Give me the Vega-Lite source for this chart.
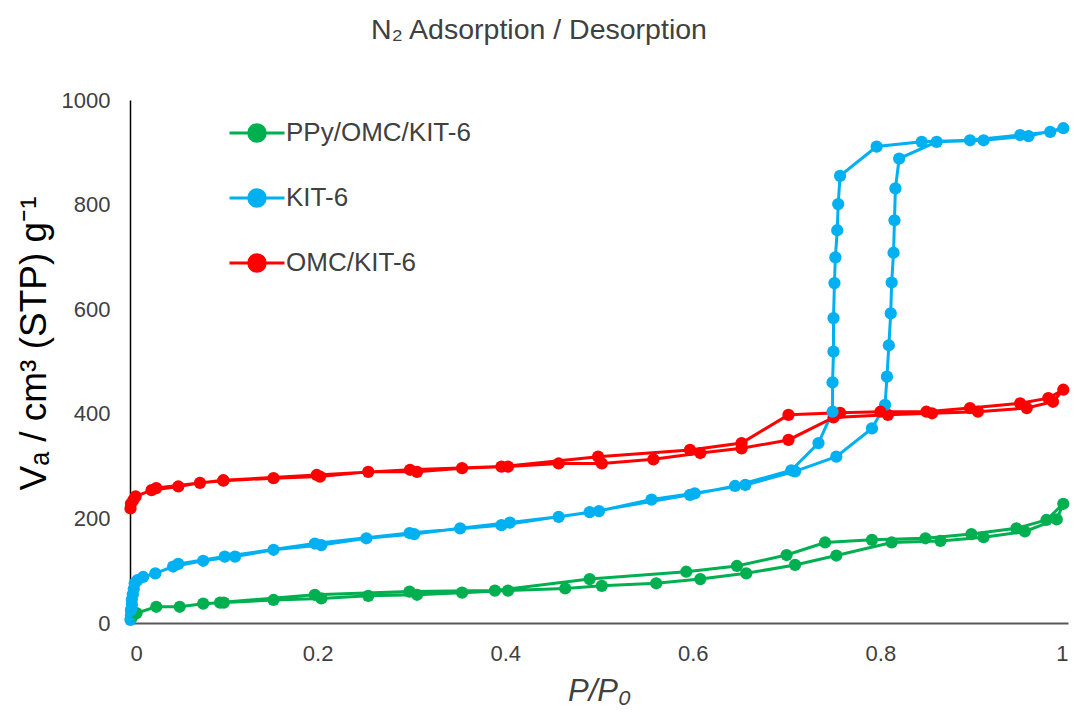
{
  "$schema": "https://vega.github.io/schema/vega-lite/v6.json",
  "autosize": {"type": "none"},
  "width": 938,
  "height": 523,
  "padding": {"left": 130, "top": 100, "right": 11, "bottom": 90},
  "background": "white",
  "config": {"font": "Liberation Sans", "view": {"stroke": null}},
  "title": {"text": "N₂ Adsorption / Desorption", "fontSize": 28.5, "fontWeight": "normal", "color": "#404040", "font": "Liberation Sans", "dx": -60, "offset": 45},
  "data": {"values": [
    {"s":"PPy/OMC/KIT-6","i":1,"x":0.001,"y":8},{"s":"PPy/OMC/KIT-6","i":2,"x":0.003,"y":14},{"s":"PPy/OMC/KIT-6","i":3,"x":0.007,"y":19},{"s":"PPy/OMC/KIT-6","i":4,"x":0.028,"y":31},{"s":"PPy/OMC/KIT-6","i":5,"x":0.053,"y":31},{"s":"PPy/OMC/KIT-6","i":6,"x":0.078,"y":37},{"s":"PPy/OMC/KIT-6","i":7,"x":0.1,"y":39},{"s":"PPy/OMC/KIT-6","i":8,"x":0.153,"y":44},{"s":"PPy/OMC/KIT-6","i":9,"x":0.204,"y":47},{"s":"PPy/OMC/KIT-6","i":10,"x":0.254,"y":52},{"s":"PPy/OMC/KIT-6","i":11,"x":0.306,"y":54},{"s":"PPy/OMC/KIT-6","i":12,"x":0.354,"y":58},{"s":"PPy/OMC/KIT-6","i":13,"x":0.403,"y":62},{"s":"PPy/OMC/KIT-6","i":14,"x":0.464,"y":66},{"s":"PPy/OMC/KIT-6","i":15,"x":0.503,"y":71},{"s":"PPy/OMC/KIT-6","i":16,"x":0.561,"y":76},{"s":"PPy/OMC/KIT-6","i":17,"x":0.608,"y":84},{"s":"PPy/OMC/KIT-6","i":18,"x":0.657,"y":95},{"s":"PPy/OMC/KIT-6","i":19,"x":0.709,"y":111},{"s":"PPy/OMC/KIT-6","i":20,"x":0.753,"y":129},{"s":"PPy/OMC/KIT-6","i":21,"x":0.812,"y":154},{"s":"PPy/OMC/KIT-6","i":22,"x":0.864,"y":157},{"s":"PPy/OMC/KIT-6","i":23,"x":0.91,"y":164},{"s":"PPy/OMC/KIT-6","i":24,"x":0.954,"y":175},{"s":"PPy/OMC/KIT-6","i":25,"x":0.988,"y":198},{"s":"PPy/OMC/KIT-6","i":26,"x":0.995,"y":228},{"s":"PPy/OMC/KIT-6","i":27,"x":0.977,"y":197},{"s":"PPy/OMC/KIT-6","i":28,"x":0.945,"y":181},{"s":"PPy/OMC/KIT-6","i":29,"x":0.897,"y":170},{"s":"PPy/OMC/KIT-6","i":30,"x":0.848,"y":162},{"s":"PPy/OMC/KIT-6","i":31,"x":0.791,"y":159},{"s":"PPy/OMC/KIT-6","i":32,"x":0.741,"y":154},{"s":"PPy/OMC/KIT-6","i":33,"x":0.7,"y":130},{"s":"PPy/OMC/KIT-6","i":34,"x":0.647,"y":109},{"s":"PPy/OMC/KIT-6","i":35,"x":0.593,"y":98},{"s":"PPy/OMC/KIT-6","i":36,"x":0.49,"y":84},{"s":"PPy/OMC/KIT-6","i":37,"x":0.389,"y":62},{"s":"PPy/OMC/KIT-6","i":38,"x":0.298,"y":60},{"s":"PPy/OMC/KIT-6","i":39,"x":0.197,"y":54},{"s":"PPy/OMC/KIT-6","i":40,"x":0.096,"y":39},
    {"s":"KIT-6","i":1,"x":0.0005,"y":6},{"s":"KIT-6","i":2,"x":0.001,"y":15},{"s":"KIT-6","i":3,"x":0.001,"y":25},{"s":"KIT-6","i":4,"x":0.002,"y":35},{"s":"KIT-6","i":5,"x":0.002,"y":45},{"s":"KIT-6","i":6,"x":0.003,"y":55},{"s":"KIT-6","i":7,"x":0.004,"y":65},{"s":"KIT-6","i":8,"x":0.005,"y":76},{"s":"KIT-6","i":9,"x":0.008,"y":82},{"s":"KIT-6","i":10,"x":0.014,"y":88},{"s":"KIT-6","i":11,"x":0.027,"y":95},{"s":"KIT-6","i":12,"x":0.046,"y":108},{"s":"KIT-6","i":13,"x":0.078,"y":119},{"s":"KIT-6","i":14,"x":0.112,"y":127},{"s":"KIT-6","i":15,"x":0.153,"y":140},{"s":"KIT-6","i":16,"x":0.204,"y":149},{"s":"KIT-6","i":17,"x":0.252,"y":162},{"s":"KIT-6","i":18,"x":0.303,"y":170},{"s":"KIT-6","i":19,"x":0.352,"y":181},{"s":"KIT-6","i":20,"x":0.405,"y":192},{"s":"KIT-6","i":21,"x":0.457,"y":203},{"s":"KIT-6","i":22,"x":0.5,"y":214},{"s":"KIT-6","i":23,"x":0.556,"y":236},{"s":"KIT-6","i":24,"x":0.602,"y":248},{"s":"KIT-6","i":25,"x":0.656,"y":264},{"s":"KIT-6","i":26,"x":0.709,"y":290},{"s":"KIT-6","i":27,"x":0.753,"y":318},{"s":"KIT-6","i":28,"x":0.791,"y":372},{"s":"KIT-6","i":29,"x":0.805,"y":417},{"s":"KIT-6","i":30,"x":0.807,"y":471},{"s":"KIT-6","i":31,"x":0.809,"y":531},{"s":"KIT-6","i":32,"x":0.811,"y":592},{"s":"KIT-6","i":33,"x":0.812,"y":651},{"s":"KIT-6","i":34,"x":0.814,"y":708},{"s":"KIT-6","i":35,"x":0.815,"y":770},{"s":"KIT-6","i":36,"x":0.816,"y":831},{"s":"KIT-6","i":37,"x":0.82,"y":888},{"s":"KIT-6","i":38,"x":0.86,"y":920},{"s":"KIT-6","i":39,"x":0.91,"y":923},{"s":"KIT-6","i":40,"x":0.958,"y":931},{"s":"KIT-6","i":41,"x":0.995,"y":946},{"s":"KIT-6","i":42,"x":0.981,"y":939},{"s":"KIT-6","i":43,"x":0.949,"y":933},{"s":"KIT-6","i":44,"x":0.8955,"y":923},{"s":"KIT-6","i":45,"x":0.844,"y":920},{"s":"KIT-6","i":46,"x":0.796,"y":911},{"s":"KIT-6","i":47,"x":0.757,"y":855},{"s":"KIT-6","i":48,"x":0.755,"y":801},{"s":"KIT-6","i":49,"x":0.754,"y":751},{"s":"KIT-6","i":50,"x":0.752,"y":699},{"s":"KIT-6","i":51,"x":0.751,"y":650},{"s":"KIT-6","i":52,"x":0.75,"y":583},{"s":"KIT-6","i":53,"x":0.75,"y":519},{"s":"KIT-6","i":54,"x":0.749,"y":460},{"s":"KIT-6","i":55,"x":0.749,"y":404},{"s":"KIT-6","i":56,"x":0.734,"y":344},{"s":"KIT-6","i":57,"x":0.705,"y":292},{"s":"KIT-6","i":58,"x":0.645,"y":262},{"s":"KIT-6","i":59,"x":0.597,"y":245},{"s":"KIT-6","i":60,"x":0.49,"y":212},{"s":"KIT-6","i":61,"x":0.396,"y":187},{"s":"KIT-6","i":62,"x":0.298,"y":172},{"s":"KIT-6","i":63,"x":0.197,"y":152},{"s":"KIT-6","i":64,"x":0.101,"y":127},{"s":"KIT-6","i":65,"x":0.0515,"y":113},
    {"s":"OMC/KIT-6","i":1,"x":0.0005,"y":219},{"s":"OMC/KIT-6","i":2,"x":0.001,"y":228},{"s":"OMC/KIT-6","i":3,"x":0.0036,"y":235},{"s":"OMC/KIT-6","i":4,"x":0.006,"y":242},{"s":"OMC/KIT-6","i":5,"x":0.023,"y":254},{"s":"OMC/KIT-6","i":6,"x":0.0515,"y":261},{"s":"OMC/KIT-6","i":7,"x":0.0746,"y":268},{"s":"OMC/KIT-6","i":8,"x":0.0995,"y":272},{"s":"OMC/KIT-6","i":9,"x":0.153,"y":277},{"s":"OMC/KIT-6","i":10,"x":0.2026,"y":280},{"s":"OMC/KIT-6","i":11,"x":0.254,"y":289},{"s":"OMC/KIT-6","i":12,"x":0.306,"y":289},{"s":"OMC/KIT-6","i":13,"x":0.354,"y":296},{"s":"OMC/KIT-6","i":14,"x":0.403,"y":299},{"s":"OMC/KIT-6","i":15,"x":0.457,"y":305},{"s":"OMC/KIT-6","i":16,"x":0.503,"y":305},{"s":"OMC/KIT-6","i":17,"x":0.558,"y":313},{"s":"OMC/KIT-6","i":18,"x":0.608,"y":325},{"s":"OMC/KIT-6","i":19,"x":0.652,"y":334},{"s":"OMC/KIT-6","i":20,"x":0.702,"y":350},{"s":"OMC/KIT-6","i":21,"x":0.75,"y":393},{"s":"OMC/KIT-6","i":22,"x":0.808,"y":398},{"s":"OMC/KIT-6","i":23,"x":0.855,"y":401},{"s":"OMC/KIT-6","i":24,"x":0.904,"y":404},{"s":"OMC/KIT-6","i":25,"x":0.956,"y":411},{"s":"OMC/KIT-6","i":26,"x":0.984,"y":423},{"s":"OMC/KIT-6","i":27,"x":0.995,"y":446},{"s":"OMC/KIT-6","i":28,"x":0.979,"y":430},{"s":"OMC/KIT-6","i":29,"x":0.949,"y":420},{"s":"OMC/KIT-6","i":30,"x":0.8955,"y":411},{"s":"OMC/KIT-6","i":31,"x":0.849,"y":404},{"s":"OMC/KIT-6","i":32,"x":0.8,"y":404},{"s":"OMC/KIT-6","i":33,"x":0.757,"y":402},{"s":"OMC/KIT-6","i":34,"x":0.702,"y":398},{"s":"OMC/KIT-6","i":35,"x":0.652,"y":344},{"s":"OMC/KIT-6","i":36,"x":0.597,"y":331},{"s":"OMC/KIT-6","i":37,"x":0.499,"y":318},{"s":"OMC/KIT-6","i":38,"x":0.396,"y":299},{"s":"OMC/KIT-6","i":39,"x":0.2985,"y":293},{"s":"OMC/KIT-6","i":40,"x":0.199,"y":283},{"s":"OMC/KIT-6","i":41,"x":0.0995,"y":273},{"s":"OMC/KIT-6","i":42,"x":0.028,"y":258}
  ]},
  "encoding": {
    "x": {"field": "x", "type": "quantitative",
      "scale": {"domain": [0, 1], "nice": false, "zero": false},
      "axis": {"title": "P/P₀", "titleFont": "Liberation Sans", "titleFontSize": 31, "titleFontStyle": "italic", "titleFontWeight": "normal", "titleColor": "#404040", "titlePadding": 12,
        "values": [0, 0.2, 0.4, 0.6, 0.8, 1], "labelExpr": "'' + datum.value", "labelFontSize": 22, "labelColor": "#404040", "labelPadding": 20,
        "ticks": false, "grid": false, "domainColor": "#595959", "domainWidth": 2}},
    "y": {"field": "y", "type": "quantitative",
      "scale": {"domain": [0, 1000], "nice": false},
      "axis": {"title": "Vₐ / cm³ (STP) g⁻¹", "titleFont": "Liberation Sans", "titleFontSize": 37, "titleFontWeight": "normal", "titleColor": "#000000", "titlePadding": 8, "titleY": 243,
        "values": [0, 200, 400, 600, 800, 1000], "format": "d", "labelFontSize": 22, "labelColor": "#404040", "labelPadding": 20,
        "ticks": false, "grid": false, "domainColor": "#000000", "domainWidth": 1.5}},
    "color": {"field": "s", "type": "nominal",
      "scale": {"domain": ["PPy/OMC/KIT-6", "KIT-6", "OMC/KIT-6"], "range": ["#00B050", "#00B0F0", "#FF0000"]},
      "legend": {"title": null, "orient": "none", "legendX": 98, "legendY": 4, "labelFontSize": 26, "labelFont": "Liberation Sans", "labelColor": "#404040", "labelOffset": 0, "labelLimit": 500, "rowPadding": 21,
        "symbolType": "M-1,0L1,0M-0.3,0A0.3,0.3,0,1,0,0.3,0A0.3,0.3,0,1,0,-0.3,0Z", "symbolSize": 3025, "symbolStrokeWidth": 3,
        "encode": {"symbols": {"update": {"fill": {"scale": "color", "field": "value"}, "stroke": {"scale": "color", "field": "value"}, "opacity": {"value": 1}, "fillOpacity": {"value": 1}}}}}
    },
    "order": {"field": "i", "type": "quantitative"}
  },
  "layer": [
    {"mark": {"type": "line", "strokeWidth": 3}},
    {"mark": {"type": "point", "filled": true, "size": 150, "opacity": 1}}
  ]
}
